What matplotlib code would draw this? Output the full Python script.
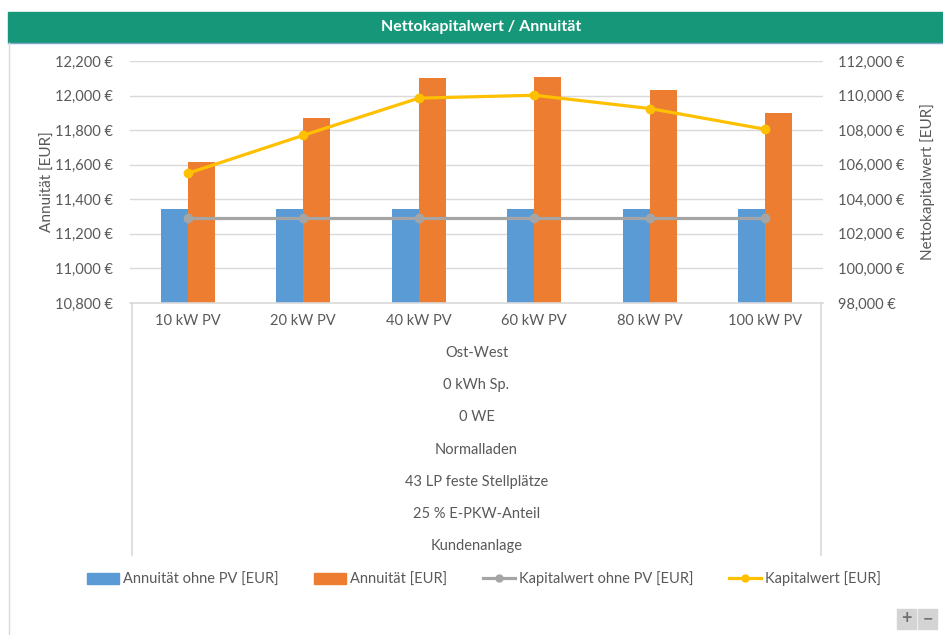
import matplotlib.pyplot as plt
import matplotlib.patches as mpatches
from matplotlib.lines import Line2D
from matplotlib.ticker import FuncFormatter, MultipleLocator
import numpy as np

plt.rcParams['font.family'] = ['Lato', 'DejaVu Sans']

# daten
kategorien = ['10 kW PV', '20 kW PV', '40 kW PV', '60 kW PV', '80 kW PV', '100 kW PV']
annuitaet_ohne_pv = [11345, 11345, 11345, 11345, 11345, 11345]
annuitaet = [11615, 11870, 12100, 12110, 12030, 11900]
kapitalwert_ohne_pv = [102900, 102900, 102900, 102900, 102900, 102900]
kapitalwert = [105500, 107700, 109850, 110020, 109250, 108050]
gruppen = ['Ost-West', '0 kWh Sp.', '0 WE', 'Normalladen',
           '43 LP feste Stellplätze', '25 % E-PKW-Anteil', 'Kundenanlage']

c_blau = '#5B9BD5'
c_orange = '#ED7D31'
c_grau = '#A5A5A5'
c_gelb = '#FFC000'
c_text = '#595959'
c_linie = '#D9D9D9'

W, H = 943, 635
fig = plt.figure(figsize=(W / 100, H / 100), dpi=100)

# titelbalken
fig.patches.append(mpatches.Rectangle((8 / W, 1 - 42 / H), 1 - 8 / W, 30 / H,
                                      transform=fig.transFigure, color='#17977A', zorder=0))
fig.lines.append(Line2D([8 / W, 1], [1 - 42.5 / H, 1 - 42.5 / H], transform=fig.transFigure,
                        color='#7FA7C9', lw=1))
fig.lines.append(Line2D([8.5 / W, 8.5 / W], [0, 1 - 43 / H], transform=fig.transFigure,
                        color=c_linie, lw=1))
fig.text(481 / W, 1 - 27 / H, 'Nettokapitalwert / Annuität', color='white',
         fontsize=11.5, fontweight='bold', ha='center', va='center')

x0, x1, y0, y1 = 130, 823, 303, 61
ax = fig.add_axes([x0 / W, 1 - y0 / H, (x1 - x0) / W, (y0 - y1) / H])
ax2 = ax.twinx()

x = np.arange(len(kategorien))
b = 0.234
ax.bar(x - b / 2, annuitaet_ohne_pv, b, color=c_blau, zorder=2)
ax.bar(x + b / 2, annuitaet, b, color=c_orange, zorder=2)
ax2.plot(x, kapitalwert_ohne_pv, color=c_grau, lw=2.3, marker='o', ms=6, zorder=3)
ax2.plot(x, kapitalwert, color=c_gelb, lw=2.3, marker='o', ms=6, zorder=3)

ax.set_xlim(-0.5, len(kategorien) - 0.5)
ax.set_ylim(10800, 12200)
ax.yaxis.set_major_locator(MultipleLocator(200))
ax2.set_ylim(98000, 112000)
ax2.yaxis.set_major_locator(MultipleLocator(2000))

fmt = FuncFormatter(lambda v, p: '{:,.0f} €'.format(v))
ax.yaxis.set_major_formatter(fmt)
ax2.yaxis.set_major_formatter(fmt)

ax.grid(axis='y', color=c_linie, lw=1, zorder=0)
ax.set_axisbelow(True)
for a in (ax, ax2):
    for s in a.spines.values():
        s.set_visible(False)
ax.tick_params(axis='y', length=0, pad=12, labelsize=10.5, labelcolor=c_text)
ax2.tick_params(axis='y', length=0, pad=11, labelsize=10.5, labelcolor=c_text)
ax.set_xticks(x)
ax.set_xticklabels(kategorien)
ax.tick_params(axis='x', length=0, pad=8, labelsize=10.5, labelcolor=c_text)

ax.set_ylabel('Annuität [EUR]', fontsize=11, color=c_text, labelpad=0)
ax2.set_ylabel('Nettokapitalwert [EUR]', fontsize=11, color=c_text, labelpad=11)

# mehrstufige kategorieachse
hoehe = y0 - y1
unten = -(555 - y0) / hoehe
ax.plot([0, 1], [0, 0], transform=ax.transAxes, color=c_linie, lw=1.2, clip_on=False, zorder=4)
ax.plot([0.003, 0.003], [0, unten], transform=ax.transAxes, color=c_linie, lw=1.2, clip_on=False)
ax.plot([0.997, 0.997], [0, unten], transform=ax.transAxes, color=c_linie, lw=1.2, clip_on=False)
for i, t in enumerate(gruppen):
    yy = -(353 + i * 32.2 - y0) / hoehe
    ax.text(0.5, yy, t, transform=ax.transAxes, ha='center', va='center',
            fontsize=10.5, color=c_text)

# legende
handles = [
    mpatches.Patch(color=c_blau),
    mpatches.Patch(color=c_orange),
    Line2D([], [], color=c_grau, lw=2.3, marker='o', ms=5),
    Line2D([], [], color=c_gelb, lw=2.3, marker='o', ms=5),
]
labels = ['Annuität ohne PV [EUR]', 'Annuität [EUR]', 'Kapitalwert ohne PV [EUR]', 'Kapitalwert [EUR]']
fig.legend(handles, labels, loc='center', bbox_to_anchor=(484 / W, 1 - 579 / H), ncol=4,
           frameon=False, fontsize=10.5, labelcolor=c_text, handlelength=2.2,
           handletextpad=0.3, columnspacing=2.4, handleheight=0.8)

# zoom-knoepfe
for xb, zeichen in ((897, '+'), (918, '−')):
    fig.patches.append(mpatches.Rectangle((xb / W, 1 - 629 / H), 19 / W, 20 / H,
                                          transform=fig.transFigure, color='#D4D4D4'))
    fig.text((xb + 9.5) / W, 1 - 619 / H, zeichen, color='#707070', fontsize=13,
             fontweight='bold', ha='center', va='center')

fig.savefig('out.png', dpi=100)
